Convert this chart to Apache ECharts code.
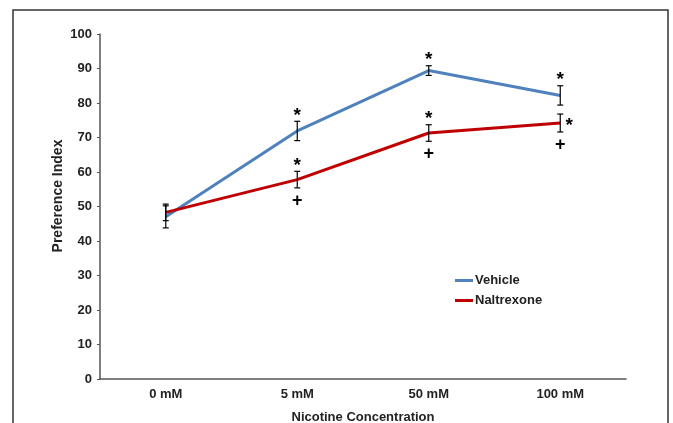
<!DOCTYPE html>
<html><head><meta charset="utf-8">
<script src="https://cdn.jsdelivr.net/npm/echarts@6/dist/echarts.min.js"></script>
<style>html,body{margin:0;padding:0;background:#fff}#c{width:673px;height:423px}</style>
</head><body><div id="c"></div>
<script>
const categories = ['0 mM', '5 mM', '50 mM', '100 mM'];
const vehicle = [47.0, 71.9, 89.4, 82.2];
const vehicleSE = [3.2, 2.8, 1.4, 2.8];
const naltrexone = [48.3, 57.8, 71.3, 74.2];
const naltrexoneSE = [2.4, 2.4, 2.4, 2.6];
const vehicleStar = [false, true, true, true];
const naltrexoneStar = [false, true, true, true];
const naltrexonePlus = [false, true, true, true];
const yTicks = [0, 10, 20, 30, 40, 50, 60, 70, 80, 90, 100];

const FONT = '"Liberation Sans", Arial, sans-serif';
const chart = echarts.init(document.getElementById('c'), null, {renderer: 'canvas'});

function errData(vals, se, star, plus, starRight) {
  return vals.map((v, i) => [i, v, se[i], star[i] ? 1 : 0, plus ? (plus[i] ? 1 : 0) : 0, (starRight && i === vals.length - 1) ? 1 : 0]);
}
function renderErr(params, api) {
  const i = api.value(0), v = api.value(1), se = api.value(2);
  const star = api.value(3), plus = api.value(4), right = api.value(5);
  const top = api.coord([i, v + se]);
  const bot = api.coord([i, v - se]);
  const x = top[0];
  const cap = 3;
  const children = [
    {type: 'line', shape: {x1: x, y1: top[1], x2: x, y2: bot[1]}, style: {stroke: '#000', lineWidth: 1.2}},
    {type: 'line', shape: {x1: x - cap, y1: top[1], x2: x + cap, y2: top[1]}, style: {stroke: '#000', lineWidth: 1.2}},
    {type: 'line', shape: {x1: x - cap, y1: bot[1], x2: x + cap, y2: bot[1]}, style: {stroke: '#000', lineWidth: 1.2}}
  ];
  if (star) {
    const p = api.coord([i, v]);
    if (right) {
      children.push({type: 'text', style: {text: '*', x: x + 9, y: p[1] + 3, font: 'bold 19px ' + FONT, fill: '#000', textAlign: 'center', textVerticalAlign: 'middle'}});
    } else {
      children.push({type: 'text', style: {text: '*', x: x, y: top[1] + 4, font: 'bold 19px ' + FONT, fill: '#000', textAlign: 'center', textVerticalAlign: 'bottom'}});
    }
  }
  if (plus) {
    children.push({type: 'text', style: {text: '+', x: x, y: bot[1] + 4, font: 'bold 18px ' + FONT, fill: '#000', textAlign: 'center', textVerticalAlign: 'top'}});
  }
  return {type: 'group', children};
}

chart.setOption({
  animation: false,
  backgroundColor: '#fff',
  graphic: [
    {type: 'rect', shape: {x: 13, y: 10, width: 655, height: 430}, style: {fill: 'none', stroke: '#333', lineWidth: 1.5}, z: -1},
    {type: 'text', x: 58, y: 196, rotation: Math.PI / 2,
      style: {text: 'Preference Index', font: 'bold 14px ' + FONT, fill: '#222', textAlign: 'center', textVerticalAlign: 'middle'}}
  ],
  grid: {left: 100, right: 47, top: 34, bottom: 44, containLabel: false, outerBoundsMode: 'none'},
  legend: {
    data: ['Vehicle', 'Naltrexone'],
    orient: 'vertical', left: 450, top: 269, itemGap: 7,
    itemWidth: 18, itemHeight: 3,
    icon: 'rect',
    textStyle: {fontFamily: FONT, fontWeight: 'bold', fontSize: 13, color: '#222', padding: [0, 0, 0, -3]}
  },
  xAxis: {
    type: 'category', data: categories, boundaryGap: true,
    name: 'Nicotine Concentration', nameLocation: 'middle', nameGap: 32,
    nameTextStyle: {fontFamily: FONT, fontWeight: 'bold', fontSize: 13, color: '#222'},
    axisLine: {lineStyle: {color: '#555', width: 1.5}},
    axisTick: {alignWithLabel: true, length: 3, lineStyle: {color: '#555'}},
    axisLabel: {fontFamily: FONT, fontWeight: 'bold', fontSize: 13, color: '#222', margin: 9}
  },
  yAxis: {
    type: 'value', min: 0, max: 100, interval: 10,
    axisLine: {show: true, lineStyle: {color: '#555', width: 1.5}},
    axisTick: {show: true, length: 3, lineStyle: {color: '#555'}},
    splitLine: {show: false},
    axisLabel: {fontFamily: FONT, fontWeight: 'bold', fontSize: 13, color: '#222', margin: 8,
      formatter: v => yTicks.includes(v) ? String(v) : ''}
  },
  series: [
    {name: 'Vehicle', type: 'line', data: vehicle, symbol: 'none', lineStyle: {color: '#4F81BD', width: 3}, itemStyle: {color: '#4F81BD'}, z: 2},
    {name: 'Naltrexone', type: 'line', data: naltrexone, symbol: 'none', lineStyle: {color: '#C00000', width: 3}, itemStyle: {color: '#C00000'}, z: 3},
    {type: 'custom', renderItem: renderErr, data: errData(vehicle, vehicleSE, vehicleStar, null, false), z: 4, silent: true},
    {type: 'custom', renderItem: renderErr, data: errData(naltrexone, naltrexoneSE, naltrexoneStar, naltrexonePlus, true), z: 4, silent: true}
  ]
});
</script></body></html>
